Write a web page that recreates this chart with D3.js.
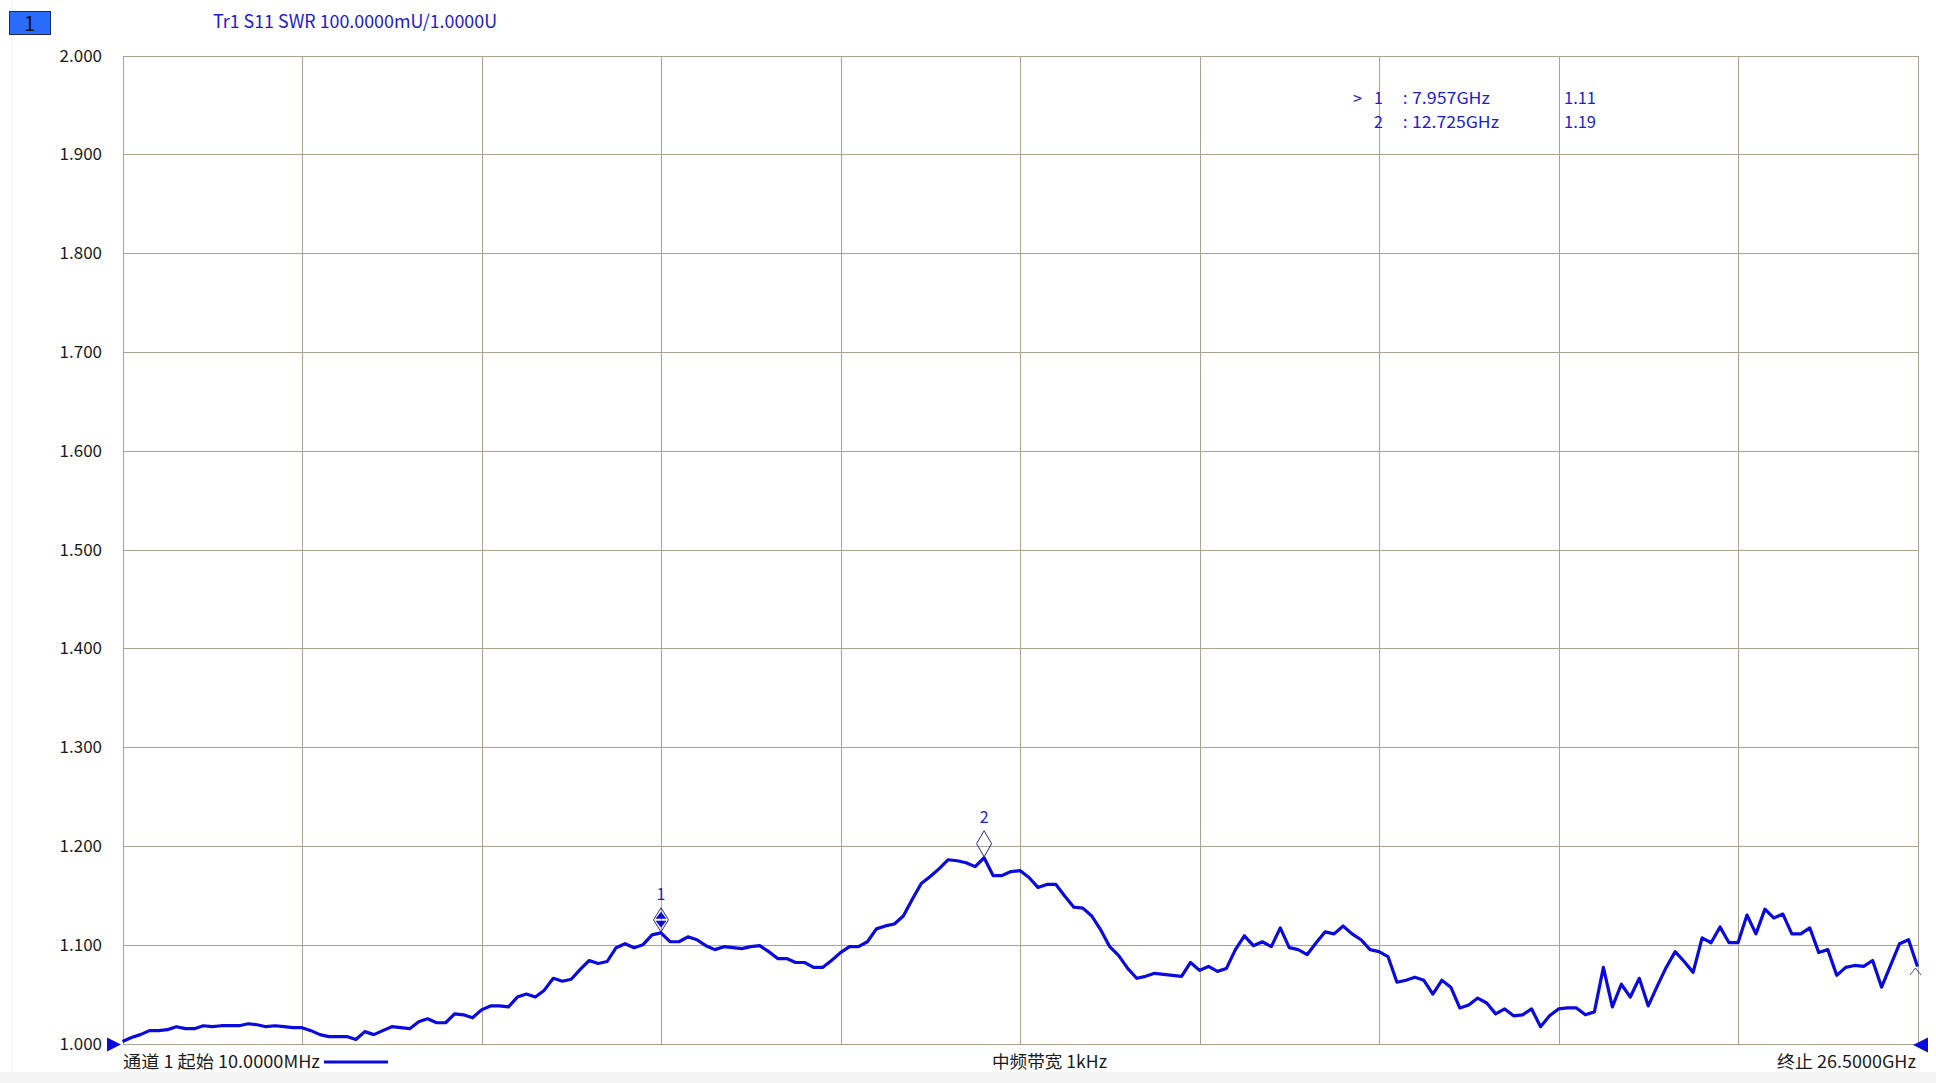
<!DOCTYPE html>
<html>
<head>
<meta charset="utf-8">
<title>S11 SWR</title>
<script src="https://cdn.jsdelivr.net/npm/d3@7"></script>
<style>
  body { margin: 0; background: #fff; }
  text { font-family: "Noto Sans CJK SC", "Noto Sans", sans-serif; }
</style>
</head>
<body>
<script>
// sweep settings (GHz)
const startGHz = 0.01;
const stopGHz = 26.5;

// SWR trace, 201 sweep points
const swr = [
  1.002,1.006,1.009,1.013,1.013,1.014,1.017,1.015,1.015,1.018,
  1.017,1.018,1.018,1.018,1.020,1.019,1.017,1.018,1.017,1.016,
  1.016,1.013,1.009,1.007,1.007,1.007,1.004,1.012,1.009,1.013,
  1.017,1.016,1.015,1.022,1.025,1.021,1.021,1.030,1.029,1.026,
  1.034,1.038,1.038,1.037,1.047,1.050,1.047,1.054,1.066,1.063,
  1.065,1.075,1.084,1.081,1.083,1.097,1.101,1.097,1.100,1.110,
  1.112,1.103,1.103,1.108,1.105,1.099,1.095,1.098,1.097,1.096,
  1.098,1.099,1.093,1.086,1.086,1.082,1.082,1.077,1.077,1.084,
  1.092,1.098,1.098,1.103,1.116,1.119,1.121,1.129,1.146,1.162,
  1.169,1.177,1.186,1.185,1.183,1.179,1.188,1.170,1.170,1.174,
  1.175,1.168,1.158,1.161,1.161,1.149,1.138,1.137,1.129,1.115,
  1.098,1.089,1.076,1.066,1.068,1.071,1.070,1.069,1.068,1.082,
  1.074,1.078,1.073,1.076,1.095,1.109,1.099,1.103,1.098,1.117,
  1.097,1.095,1.090,1.102,1.113,1.111,1.119,1.111,1.105,1.095,
  1.093,1.088,1.062,1.064,1.067,1.064,1.050,1.064,1.057,1.036,
  1.039,1.046,1.041,1.030,1.035,1.028,1.029,1.035,1.017,1.028,
  1.035,1.036,1.036,1.029,1.032,1.077,1.037,1.060,1.047,1.066,
  1.038,1.058,1.077,1.093,1.083,1.072,1.107,1.102,1.118,1.102,
  1.102,1.130,1.111,1.136,1.127,1.131,1.111,1.111,1.117,1.092,
  1.095,1.069,1.077,1.079,1.078,1.084,1.057,1.079,1.101,1.105,
  1.078
];

const yTicks = [1.0,1.1,1.2,1.3,1.4,1.5,1.6,1.7,1.8,1.9,2.0];

const markerIds = ["1", "2"];
const markerGHz = [7.957, 12.725];
const markerFreqText = ["7.957GHz", "12.725GHz"];
const markerValText = ["1.11", "1.19"];

const titleText = "Tr1 S11 SWR 100.0000mU/1.0000U";
const startText = "通道 1 起始 10.0000MHz";
const ifbwText = "中频带宽 1kHz";
const stopText = "终止 26.5000GHz";

const W = 1936, H = 1083;
const pL = 122.5, pR = 1917.5, pT = 55.5, pB = 1043.5;
const traceColor = "#0a0ade";
const textBlue = "#1c1ccc";
const gridColor = "#a8a391";

const freqs = swr.map((d, i) => startGHz + i * (stopGHz - startGHz) / (swr.length - 1));

const x = d3.scaleLinear().domain([startGHz, stopGHz]).range([pL, pR]);
const y = d3.scaleLinear().domain([1, 2]).range([pB, pT]);

const svg = d3.select("body").append("svg")
  .attr("width", W).attr("height", H)
  .attr("viewBox", [0, 0, W, H]);

svg.append("rect").attr("width", W).attr("height", H).attr("fill", "#fff");
// faint outer frame of the screen grab
svg.append("rect").attr("x", 0).attr("y", 1072).attr("width", W).attr("height", H - 1072).attr("fill", "#f3f3f3");
svg.append("line").attr("x1", 12).attr("x2", 12).attr("y1", 0).attr("y2", 1072).attr("stroke", "#f1f1f1");

// channel box
svg.append("rect").attr("x", 9.5).attr("y", 11.5).attr("width", 41).attr("height", 23)
  .attr("fill", "#2a6cff").attr("stroke", "#1d2a55").attr("stroke-width", 1);
svg.append("text").attr("x", 29.5).attr("y", 30.5).attr("text-anchor", "middle")
  .attr("font-size", 20).attr("fill", "#111").text("1");

svg.append("text").attr("x", 213).attr("y", 27.5)
  .attr("font-size", 18).attr("fill", textBlue)
  .attr("textLength", 284).attr("lengthAdjust", "spacingAndGlyphs")
  .text(titleText);

// grid
const grid = svg.append("g").attr("stroke", gridColor).attr("stroke-width", 1).attr("shape-rendering", "crispEdges");
grid.selectAll(".h").data(yTicks).join("line")
  .attr("x1", pL).attr("x2", pR)
  .attr("y1", d => Math.round(y(d)) + 0.5).attr("y2", d => Math.round(y(d)) + 0.5);
grid.selectAll(".v").data(d3.range(11)).join("line")
  .attr("y1", pT).attr("y2", pB)
  .attr("x1", d => Math.round(x(startGHz + d * (stopGHz - startGHz) / 10)) + 0.5)
  .attr("x2", d => Math.round(x(startGHz + d * (stopGHz - startGHz) / 10)) + 0.5);

// y labels
svg.append("g").selectAll("text").data(yTicks).join("text")
  .attr("x", 102).attr("y", d => y(d) + 6)
  .attr("text-anchor", "end").attr("font-size", 17).attr("fill", "#1a1a1a")
  .text(d => d3.format(".3f")(d));

// trace
const line = d3.line().x((d, i) => x(freqs[i])).y(d => y(d));
svg.append("path").datum(swr)
  .attr("d", line).attr("fill", "none")
  .attr("stroke", traceColor).attr("stroke-width", 3.2)
  .attr("stroke-linejoin", "round");

// reference / edge triangles
svg.append("path").attr("d", "M107,1037.5L107,1051.5L121,1044.5Z").attr("fill", traceColor);
svg.append("path").attr("d", "M1913,1045L1928,1037.5L1928,1052.5Z").attr("fill", traceColor);
svg.append("path").attr("d", "M1910,975L1915.5,968L1921,975").attr("fill", "none")
  .attr("stroke", "#1a1a99").attr("stroke-width", 0.8);

// markers on trace
const markerG = svg.append("g");
markerGHz.forEach((f, k) => {
  const i = d3.minIndex(freqs, fr => Math.abs(fr - f));
  const cx = x(freqs[i]), by = y(swr[i]) - 1;
  const h = k === 0 ? 24 : 26, w = 15;
  const cy = by - h / 2;
  markerG.append("path")
    .attr("d", `M${cx},${by - h}L${cx + w / 2},${cy}L${cx},${by}L${cx - w / 2},${cy}Z`)
    .attr("fill", "none").attr("stroke", "#11117a").attr("stroke-width", 0.9);
  if (k === 0) {
    markerG.append("path").attr("d", `M${cx},${cy - 8}L${cx + 5.5},${cy - 1}L${cx - 5.5},${cy - 1}Z`).attr("fill", traceColor);
    markerG.append("path").attr("d", `M${cx},${cy + 8}L${cx + 5.5},${cy + 1}L${cx - 5.5},${cy + 1}Z`).attr("fill", traceColor);
  }
  markerG.append("text").attr("x", cx).attr("y", by - h - 8)
    .attr("text-anchor", "middle").attr("font-size", 16).attr("fill", textBlue)
    .text(markerIds[k]);
});

// marker readout
const readout = svg.append("g").attr("font-size", 16).attr("fill", textBlue);
markerIds.forEach((m, k) => {
  const by = 103.5 + k * 24.5;
  if (k === 0) readout.append("text").attr("x", 1353).attr("y", by).text(">");
  readout.append("text").attr("x", 1374).attr("y", by).text(m);
  readout.append("text").attr("x", 1403).attr("y", by).text(":");
  readout.append("text").attr("x", 1412).attr("y", by)
    .attr("textLength", k === 0 ? 78 : 87).attr("lengthAdjust", "spacingAndGlyphs")
    .text(markerFreqText[k]);
  readout.append("text").attr("x", 1564).attr("y", by)
    .attr("textLength", 32).attr("lengthAdjust", "spacingAndGlyphs")
    .text(markerValText[k]);
});

// footer
const foot = svg.append("g").attr("font-size", 17).attr("fill", "#1a1a1a");
foot.append("text").attr("x", 123).attr("y", 1068)
  .attr("textLength", 197).attr("lengthAdjust", "spacingAndGlyphs").text(startText);
svg.append("line").attr("x1", 324).attr("x2", 388).attr("y1", 1062).attr("y2", 1062)
  .attr("stroke", traceColor).attr("stroke-width", 3);
foot.append("text").attr("x", 992).attr("y", 1068)
  .attr("textLength", 115).attr("lengthAdjust", "spacingAndGlyphs").text(ifbwText);
foot.append("text").attr("x", 1777).attr("y", 1068)
  .attr("textLength", 139).attr("lengthAdjust", "spacingAndGlyphs").text(stopText);
</script>
</body>
</html>
